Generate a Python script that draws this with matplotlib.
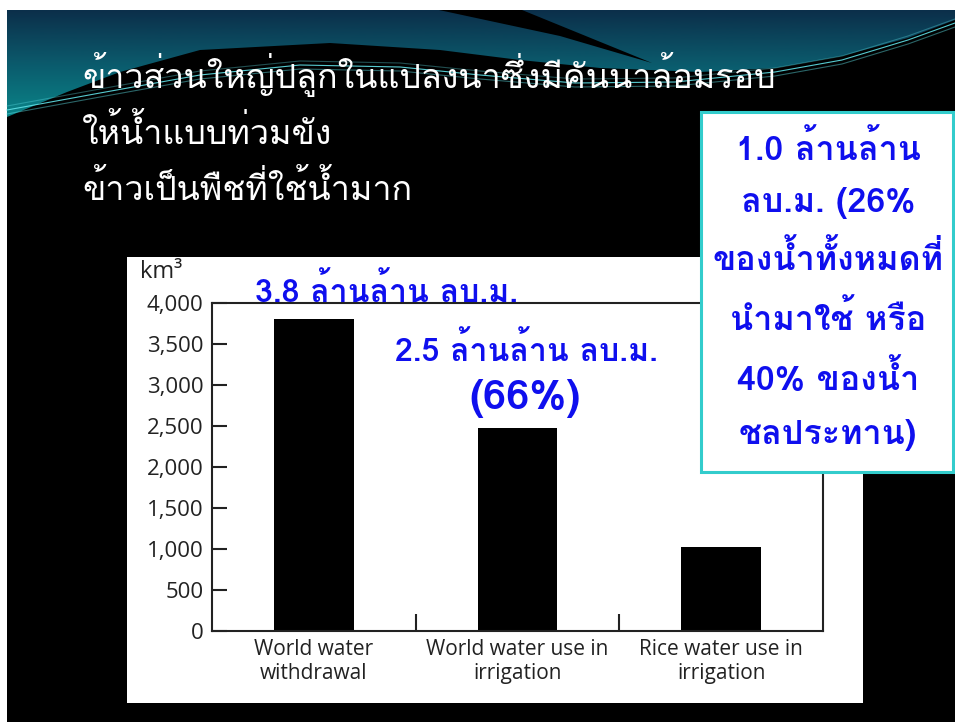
import numpy as np
import matplotlib
matplotlib.use("Agg")
import matplotlib.pyplot as plt
from matplotlib import font_manager
from matplotlib.ft2font import FT2Font
from matplotlib.patches import Rectangle, Polygon

# data
categories = ["World water\nwithdrawal", "World water use in\nirrigation", "Rice water use in\nirrigation"]
water_km3 = [3800, 2480, 1020]
y_ticks = [0, 500, 1000, 1500, 2000, 2500, 3000, 3500, 4000]

title_lines = ["ข้าวส่วนใหญ่ปลูกในแปลงนาซึ่งมีคันนาล้อมรอบ",
               "ให้น้ำแบบท่วมขัง",
               "ข้าวเป็นพืชที่ใช้น้ำมาก"]
note_total = "3.8 ล้านล้าน ลบ.ม."
note_irrig = "2.5 ล้านล้าน ลบ.ม."
note_irrig_pct = "(66%)"
box_lines = ["1.0 ล้านล้าน", "ลบ.ม. (26%", "ของน้ำทั้งหมดที่",
             "นำมาใช้ หรือ", "40% ของน้ำ", "ชลประทาน)"]


# find a font that has thai glyphs
def find_thai(bold):
    best = None
    for f in font_manager.fontManager.ttflist:
        try:
            cmap = FT2Font(f.fname).get_charmap()
        except Exception:
            continue
        if 0x0E01 not in cmap or 0x0E49 not in cmap:
            continue
        w = f.weight if isinstance(f.weight, int) else 400
        score = -abs(w - (700 if bold else 400))
        if best is None or score > best[0]:
            best = (score, f.name)
    return best[1] if best else "DejaVu Sans"


thai_reg = find_thai(False)
thai_bold = find_thai(True)
plt.rcParams['font.family'] = [thai_reg, 'DejaVu Sans']

W, H = 955, 722
fig = plt.figure(figsize=(W / 100, H / 100), dpi=100, facecolor="white")

# background in pixel coords
bg = fig.add_axes([0, 0, 1, 1], zorder=0)
bg.set_xlim(0, W)
bg.set_ylim(H, 0)
bg.axis("off")
bg.add_patch(Rectangle((7, 10), W - 7, H - 10, facecolor="black", edgecolor="none"))

# header wave with gradient
wave = [(7, 10), (955, 10), (955, 20), (908, 38), (842, 56), (775, 68), (700, 72),
        (600, 68), (520, 60), (440, 50), (330, 43), (200, 50), (120, 72), (67, 92), (7, 117)]
poly = Polygon(wave, closed=True, facecolor="none", edgecolor="none")
bg.add_patch(poly)
grad = np.linspace(0, 1, 120).reshape(-1, 1)
cmap = matplotlib.colors.LinearSegmentedColormap.from_list("hdr", ["#0b2f4a", "#0b5a6c", "#0a8488"])
im = bg.imshow(grad, cmap=cmap, extent=(7, 955, 117, 10), aspect="auto", zorder=1)
im.set_clip_path(poly)
bg.add_patch(Polygon([(439, 10), (522, 10), (652, 63), (560, 36)], closed=True,
                     facecolor="black", edgecolor="none", zorder=2))
xs = np.array([7, 100, 200, 300, 400, 480, 575, 675, 775, 842, 908, 955])
ys = np.array([110, 93, 75, 65, 67, 75, 83, 82, 72, 60, 40, 23])
for off, a in [(0, 0.9), (4, 0.45), (-4, 0.35)]:
    bg.plot(xs, ys + off, color="#5fe0e6", lw=0.8, alpha=a, zorder=3)

# chart white area
bg.add_patch(Rectangle((127, 257), 736, 446, facecolor="white", edgecolor="none", zorder=2))

for i, line in enumerate(title_lines):
    bg.text(82, 88 + i * 56, line, color="white", fontsize=24.5, va="baseline",
            ha="left", zorder=4)

# chart axes
ax = fig.add_axes([212 / W, (H - 631) / H, (823 - 212) / W, (631 - 303) / H], zorder=1)
ax.set_facecolor("none")
x = np.arange(len(categories))
ax.bar(x, water_km3, width=0.39, color="black")
ax.set_xlim(-0.5, len(categories) - 0.5)
ax.set_ylim(0, 4000)
ax.set_yticks(y_ticks)
ax.set_yticklabels([f"{v:,}" for v in y_ticks], fontsize=16, family=["Open Sans"], color="#222222")
ax.set_xticks(x)
ax.set_xticklabels(categories, fontsize=15, family=["Open Sans"], color="#222222", linespacing=1.15)
ax.set_xticks([0.5, 1.5], minor=True)
ax.tick_params(axis="x", which="major", length=0, pad=6)
ax.tick_params(axis="x", which="minor", direction="in", length=12, width=1.5, color="#222222")
ax.tick_params(axis="y", direction="in", length=11, width=1.5, color="#222222", pad=6)
for s in ax.spines.values():
    s.set_linewidth(1.5)
    s.set_color("#222222")
fig.text(140 / W, 1 - 272 / H, "km³", fontsize=17, family=["Open Sans"], color="#222222",
         va="center", ha="left")

# overlay: blue notes and box
top = fig.add_axes([0, 0, 1, 1], zorder=5)
top.set_xlim(0, W)
top.set_ylim(H, 0)
top.axis("off")
blue = "#0f0fee"
bfam = [thai_bold, "DejaVu Sans"]
top.text(386, 291, note_total, color=blue, fontsize=23, fontweight="bold",
         family=bfam, ha="center", va="center")
top.text(526, 350, note_irrig, color=blue, fontsize=23, fontweight="bold",
         family=bfam, ha="center", va="center")
top.text(525, 398, note_irrig_pct, color=blue, fontsize=30, fontweight="bold",
         family=bfam, ha="center", va="center")
top.add_patch(Rectangle((701, 112), 252, 360, facecolor="white", edgecolor="#33cccc", lw=2.2))
box_y = [148, 203, 258, 318, 378, 435]
for yy, line in zip(box_y, box_lines):
    top.text(828, yy, line, color=blue, fontsize=24.5, fontweight="bold",
             family=bfam, ha="center", va="center")

fig.savefig("out.png", dpi=100, facecolor="white")
